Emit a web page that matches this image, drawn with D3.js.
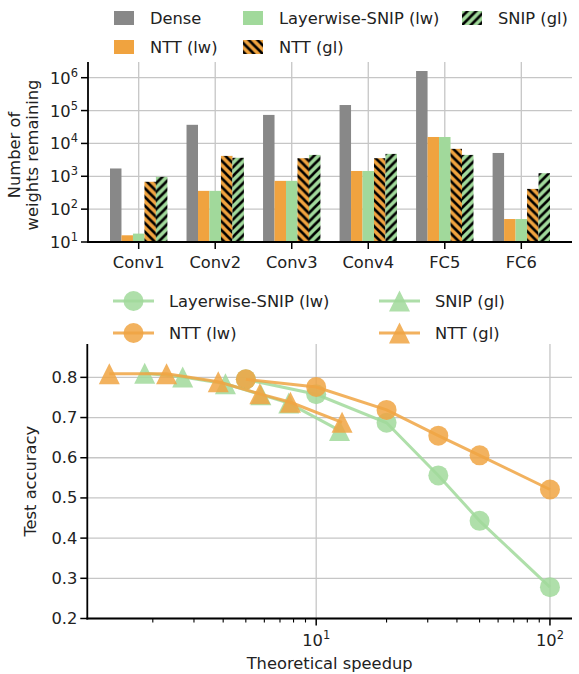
<!DOCTYPE html>
<html><head><meta charset="utf-8">
<script src="https://cdn.jsdelivr.net/npm/d3@7"></script>
<style>body{margin:0;background:#fff} text{font-family:"DejaVu Sans",sans-serif;fill:#222}</style>
</head><body><svg id="c" width="579" height="674"></svg>
<script>
// ---------- data ----------
const categories = ["Conv1", "Conv2", "Conv3", "Conv4", "FC5", "FC6"];
const barSeries = ["Dense", "NTT (lw)", "Layerwise-SNIP (lw)", "NTT (gl)", "SNIP (gl)"];
const denseW   = [1728, 36864, 73728, 147456, 1600000, 5120];
const nttLwW   = [16, 360, 725, 1450, 15700, 50];
const lsnipLwW = [18, 360, 725, 1450, 15700, 50];
const nttGlW   = [680, 4170, 3550, 3550, 6840, 413];
const snipGlW  = [960, 3650, 4470, 4800, 4470, 1240];
const yTicksTop = [1, 2, 3, 4, 5, 6]; // exponents

const lwSpeedup   = [5, 10, 20, 33.3, 50, 100];
const lsnipLwAcc  = [0.795, 0.758, 0.687, 0.556, 0.443, 0.278];
const nttLwAcc    = [0.795, 0.776, 0.719, 0.655, 0.606, 0.521];
const snipGlSpeed = [1.846, 2.685, 4.09, 5.8, 7.63, 12.58];
const snipGlAcc   = [0.810, 0.801, 0.784, 0.757, 0.736, 0.668];
const nttGlSpeed  = [1.303, 2.29, 3.81, 5.74, 7.76, 12.9];
const nttGlAcc    = [0.809, 0.809, 0.789, 0.759, 0.738, 0.688];
const yTicksBot = [0.2, 0.3, 0.4, 0.5, 0.6, 0.7, 0.8];

// ---------- styles ----------
const GRAY = "#888888", ORANGE = "#f0a33f", GREEN = "#a1d99b";
const LORANGE = "#f0a443", LGREEN = "#a1d99b";
const FS = 16.3, GRID = "#c6c6c6";

const svg = d3.select("#c");
const defs = svg.append("defs");
function hatch(id, color, dir) {
  const P = 8.7;
  const p = defs.append("pattern").attr("id", id).attr("patternUnits", "userSpaceOnUse")
    .attr("width", P).attr("height", P);
  p.append("rect").attr("width", P).attr("height", P).attr("fill", color);
  const d = dir === "/"
    ? `M0,${P} L${P},0 M${-P/4},${P/4} L${P/4},${-P/4} M${3*P/4},${5*P/4} L${5*P/4},${3*P/4}`
    : `M0,0 L${P},${P} M${-P/4},${3*P/4} L${P/4},${5*P/4} M${3*P/4},${-P/4} L${5*P/4},${P/4}`;
  p.append("path").attr("d", d).attr("stroke", "#000").attr("stroke-width", 2.6);
}
hatch("hNtt", ORANGE, "\\");
hatch("hSnip", GREEN, "/");

const barFills = [GRAY, ORANGE, GREEN, "url(#hNtt)", "url(#hSnip)"];
const barData = [denseW, nttLwW, lsnipLwW, nttGlW, snipGlW];

// ---------- top chart ----------
const T = {l: 88, r: 572, t: 62, b: 242};
const xt = d3.scaleLinear().domain([-0.6625, 5.6625]).range([T.l, T.r]);
const yt = d3.scaleLog().domain([10, Math.pow(10, 6.478)]).range([T.b, T.t]);
const gt = svg.append("g");

// grid
gt.selectAll(".hg").data(yTicksTop).join("line")
  .attr("x1", T.l).attr("x2", T.r)
  .attr("y1", d => yt(Math.pow(10, d))).attr("y2", d => yt(Math.pow(10, d)))
  .attr("stroke", GRID).attr("stroke-width", 1.3);
gt.selectAll(".vg").data(categories).join("line")
  .attr("x1", (d, i) => xt(i)).attr("x2", (d, i) => xt(i))
  .attr("y1", T.t).attr("y2", T.b)
  .attr("stroke", GRID).attr("stroke-width", 1.3);

// bars
const bw = 0.15;
barData.forEach((vals, k) => {
  gt.append("g").selectAll("rect").data(vals).join("rect")
    .attr("x", (d, i) => xt(i + (k - 2) * bw - bw / 2))
    .attr("width", (d, i) => xt(i + (k - 2) * bw + bw / 2) - xt(i + (k - 2) * bw - bw / 2))
    .attr("y", d => yt(d))
    .attr("height", d => yt(10) - yt(d))
    .attr("fill", barFills[k]);
});

// axes
gt.append("line").attr("x1", T.l).attr("x2", T.l).attr("y1", T.t).attr("y2", T.b + 0.9)
  .attr("stroke", "#000").attr("stroke-width", 1.8);
gt.append("line").attr("x1", T.l - 0.9).attr("x2", T.r).attr("y1", T.b).attr("y2", T.b)
  .attr("stroke", "#000").attr("stroke-width", 1.8);
yTicksTop.forEach(e => {
  const y = yt(Math.pow(10, e));
  gt.append("line").attr("x1", T.l - 7).attr("x2", T.l).attr("y1", y).attr("y2", y)
    .attr("stroke", "#000").attr("stroke-width", 1.5);
  const tx = gt.append("text").attr("x", T.l - 10).attr("y", y + 6)
    .attr("text-anchor", "end").attr("font-size", FS);
  tx.append("tspan").text("10");
  tx.append("tspan").attr("dy", -7).attr("font-size", FS * 0.7).text(e);
});
categories.forEach((c, i) => {
  const x = xt(i);
  gt.append("line").attr("x1", x).attr("x2", x).attr("y1", T.b).attr("y2", T.b + 7)
    .attr("stroke", "#000").attr("stroke-width", 1.5);
  gt.append("text").attr("x", x).attr("y", T.b + 26).attr("text-anchor", "middle")
    .attr("font-size", FS).text(c);
});
const yl = gt.append("text").attr("transform", "translate(0,155) rotate(-90)")
  .attr("text-anchor", "middle").attr("font-size", FS);
yl.append("tspan").attr("x", 0).attr("y", 20).text("Number of");
yl.append("tspan").attr("x", 0).attr("y", 38).text("weights remaining");

// top legend (column-major, 3 columns)
const legTop = [
  {name: "Dense", fill: GRAY, x: 114, y: 18},
  {name: "NTT (lw)", fill: ORANGE, x: 114, y: 47},
  {name: "Layerwise-SNIP (lw)", fill: GREEN, x: 243, y: 18},
  {name: "NTT (gl)", fill: "url(#hNtt)", x: 243, y: 47},
  {name: "SNIP (gl)", fill: "url(#hSnip)", x: 462, y: 18}
];
legTop.forEach(d => {
  gt.append("rect").attr("x", d.x).attr("y", d.y - 7).attr("width", 20).attr("height", 14).attr("fill", d.fill);
  gt.append("text").attr("x", d.x + 36).attr("y", d.y + 6).attr("font-size", FS).text(d.name);
});

// ---------- bottom chart ----------
const B = {l: 87.3, r: 572, t: 344, b: 618.5};
const xb = d3.scaleLog().domain([Math.pow(10, 0.0208), Math.pow(10, 2.0943)]).range([B.l, B.r]);
const yb = d3.scaleLinear().domain([0.2, 0.883]).range([B.b, B.t]);
const gb = svg.append("g");

yTicksBot.forEach(v => {
  gb.append("line").attr("x1", B.l).attr("x2", B.r).attr("y1", yb(v)).attr("y2", yb(v))
    .attr("stroke", GRID).attr("stroke-width", 1.3);
});
[10, 100].forEach(v => {
  gb.append("line").attr("x1", xb(v)).attr("x2", xb(v)).attr("y1", B.t).attr("y2", B.b)
    .attr("stroke", GRID).attr("stroke-width", 1.3);
});

const tri = d3.symbol().type({draw(ctx, size) { const s = 10.5; ctx.moveTo(0, -s); ctx.lineTo(s, s); ctx.lineTo(-s, s); ctx.closePath(); }});
const lineGen = d3.line().x(d => xb(d[0])).y(d => yb(d[1]));
const lineSeries = [
  {name: "Layerwise-SNIP (lw)", xs: lwSpeedup, ys: lsnipLwAcc, color: LGREEN, m: "circle"},
  {name: "NTT (lw)", xs: lwSpeedup, ys: nttLwAcc, color: LORANGE, m: "circle"},
  {name: "SNIP (gl)", xs: snipGlSpeed, ys: snipGlAcc, color: LGREEN, m: "tri"},
  {name: "NTT (gl)", xs: nttGlSpeed, ys: nttGlAcc, color: LORANGE, m: "tri"}
];
function marker(g, m, x, y, color) {
  if (m === "circle") g.append("circle").attr("cx", x).attr("cy", y).attr("r", 10).attr("fill", color).attr("opacity", 0.85);
  else g.append("path").attr("d", tri()).attr("transform", `translate(${x},${y})`).attr("fill", color).attr("opacity", 0.85);
}
lineSeries.forEach(s => {
  const pts = s.xs.map((x, i) => [x, s.ys[i]]);
  gb.append("path").attr("d", lineGen(pts)).attr("fill", "none").attr("stroke", s.color)
    .attr("stroke-width", 3).attr("opacity", 0.85);
  pts.forEach(p => marker(gb, s.m, xb(p[0]), yb(p[1]), s.color));
});

// axes
gb.append("line").attr("x1", B.l).attr("x2", B.l).attr("y1", B.t).attr("y2", B.b + 0.9)
  .attr("stroke", "#000").attr("stroke-width", 1.8);
gb.append("line").attr("x1", B.l - 0.9).attr("x2", B.r).attr("y1", B.b).attr("y2", B.b)
  .attr("stroke", "#000").attr("stroke-width", 1.8);
yTicksBot.forEach(v => {
  gb.append("line").attr("x1", B.l - 7).attr("x2", B.l).attr("y1", yb(v)).attr("y2", yb(v))
    .attr("stroke", "#000").attr("stroke-width", 1.5);
  gb.append("text").attr("x", B.l - 10).attr("y", yb(v) + 5.5).attr("text-anchor", "end")
    .attr("font-size", FS).text(v.toFixed(1));
});
const minor = [2, 3, 4, 5, 6, 7, 8, 9, 20, 30, 40, 50, 60, 70, 80, 90];
minor.forEach(v => {
  gb.append("line").attr("x1", xb(v)).attr("x2", xb(v)).attr("y1", B.b).attr("y2", B.b + 4)
    .attr("stroke", "#000").attr("stroke-width", 1.1);
});
[[10, 1], [100, 2]].forEach(([v, e]) => {
  gb.append("line").attr("x1", xb(v)).attr("x2", xb(v)).attr("y1", B.b).attr("y2", B.b + 7)
    .attr("stroke", "#000").attr("stroke-width", 1.5);
  const tx = gb.append("text").attr("x", xb(v)).attr("y", B.b + 27).attr("text-anchor", "middle").attr("font-size", FS);
  tx.append("tspan").text("10");
  tx.append("tspan").attr("dy", -7).attr("font-size", FS * 0.7).text(e);
});
gb.append("text").attr("x", (B.l + B.r) / 2).attr("y", 669).attr("text-anchor", "middle")
  .attr("font-size", FS).text("Theoretical speedup");
gb.append("text").attr("transform", `translate(36,${(B.t + B.b) / 2}) rotate(-90)`)
  .attr("text-anchor", "middle").attr("font-size", FS).text("Test accuracy");

// bottom legend
const legBot = [
  {s: lineSeries[0], x: 113, y: 301},
  {s: lineSeries[1], x: 113, y: 333},
  {s: lineSeries[2], x: 379, y: 301},
  {s: lineSeries[3], x: 379, y: 333}
];
legBot.forEach(d => {
  gb.append("line").attr("x1", d.x).attr("x2", d.x + 41).attr("y1", d.y).attr("y2", d.y)
    .attr("stroke", d.s.color).attr("stroke-width", 3).attr("opacity", 0.85);
  marker(gb, d.s.m, d.x + 20.5, d.y, d.s.color);
  gb.append("text").attr("x", d.x + 56).attr("y", d.y + 6).attr("font-size", FS).text(d.s.name);
});
</script></body></html>
